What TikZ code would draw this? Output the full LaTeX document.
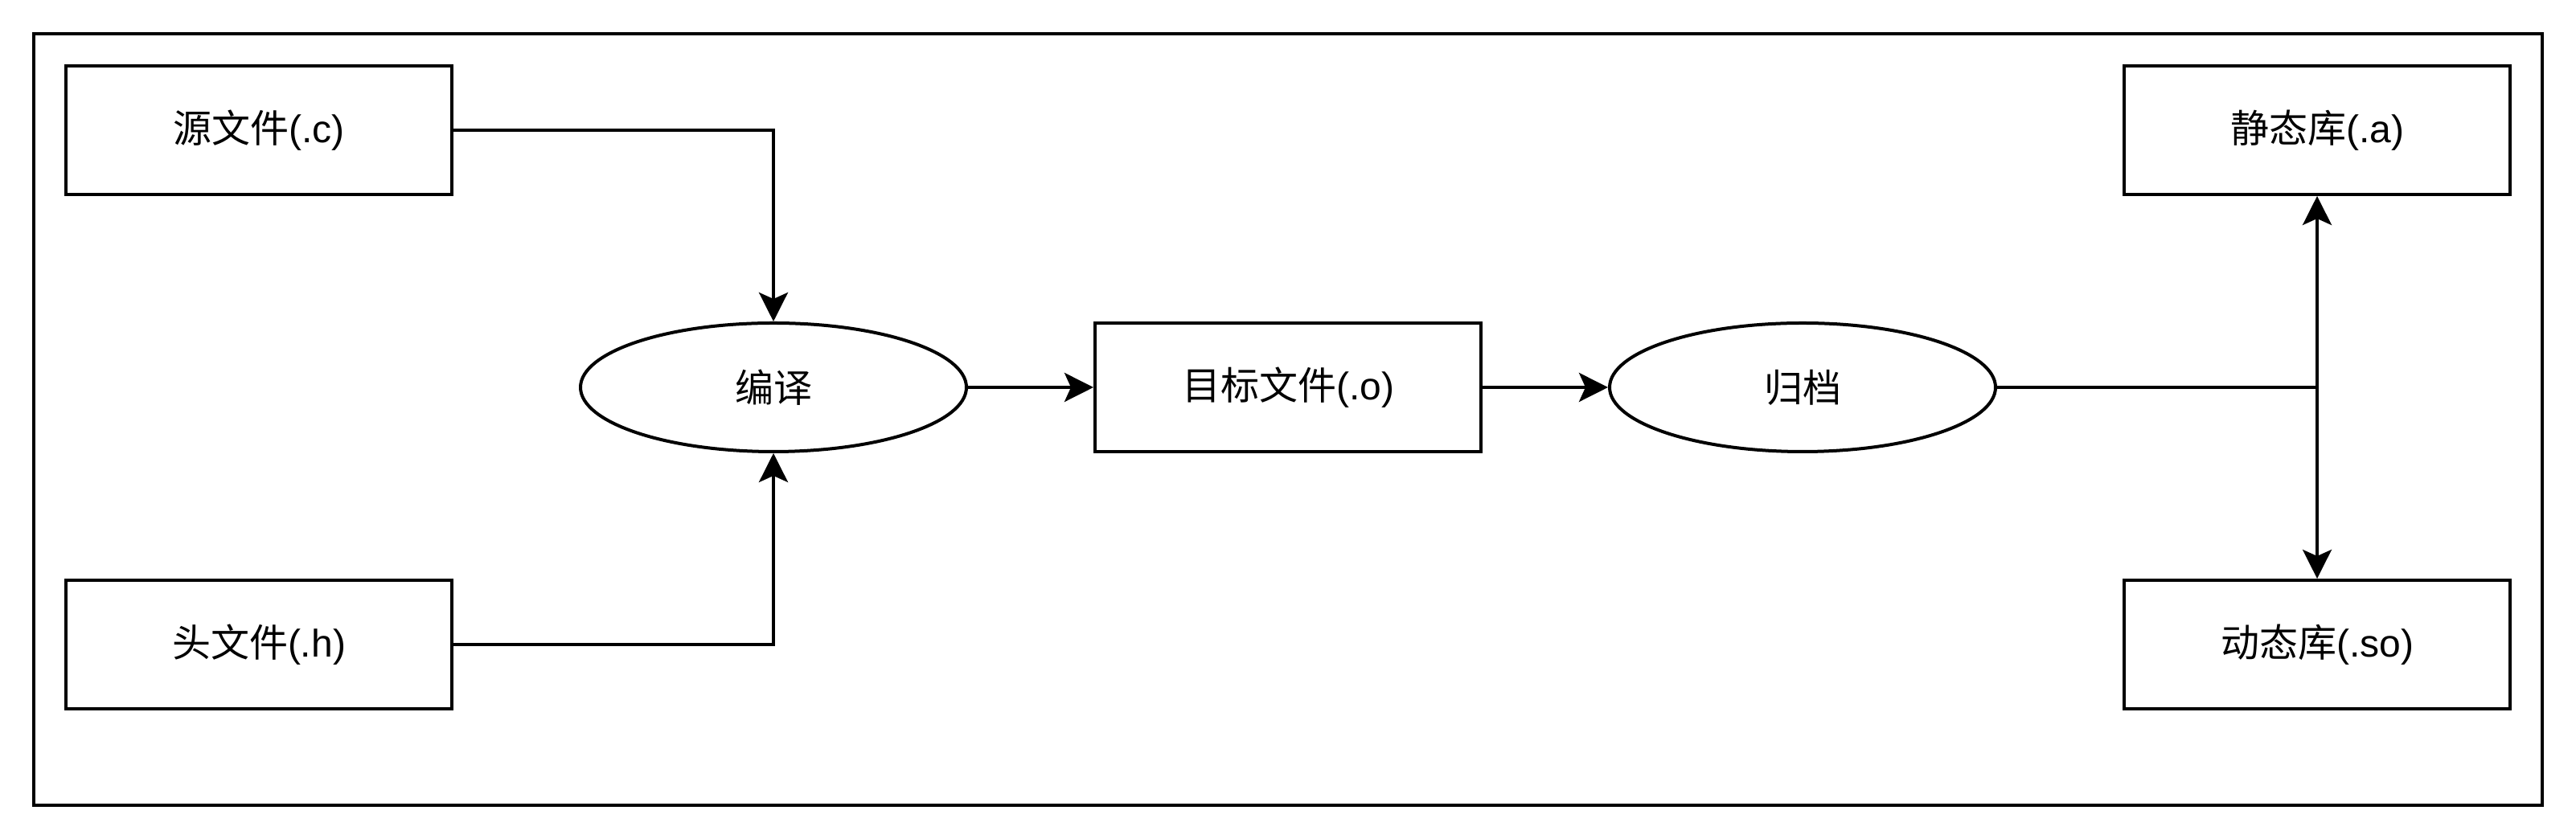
\documentclass[tikz,border=0pt]{standalone}
\usepackage{fontspec}
\setmainfont{Liberation Sans}
\newfontfamily\cjk{Noto Sans CJK SC}
\usetikzlibrary{arrows.meta,shapes.geometric}

\tikzset{
  filebox/.style={draw,line width=1pt,minimum width=120pt,minimum height=40pt,inner sep=0pt,font=\fontsize{12}{14}\selectfont},
  stepoval/.style={draw,ellipse,line width=1pt,minimum width=120pt,minimum height=40pt,inner sep=0pt,font=\fontsize{12}{14}\selectfont},
  arr/.style={line width=1pt,-{Stealth[length=9pt,width=9pt,inset=2pt]}}
}

\begin{document}
\begin{tikzpicture}[x=1pt,y=-1pt]
\useasboundingbox (-0.5,-0.5) rectangle (800.5,260.5);

\draw[line width=1pt] (10,10) rectangle (790,250); %frame

% inputs
\node[filebox] (src) at (80,40)  {{\cjk 源文件}(.c)};
\node[filebox] (hdr) at (80,200) {{\cjk 头文件}(.h)};

% steps and outputs
\node[stepoval] (cmp) at (240,120) {\cjk 编译};
\node[filebox]  (obj) at (400,120) {{\cjk 目标文件}(.o)};
\node[stepoval] (arc) at (560,120) {\cjk 归档};
\node[filebox]  (liba)  at (720,40)  {{\cjk 静态库}(.a)};
\node[filebox]  (libso) at (720,200) {{\cjk 动态库}(.so)};

\draw[arr] (src) -| (cmp);
\draw[arr] (hdr) -| (cmp);
\draw[arr] (cmp) -- (obj);
\draw[arr] (obj) -- (arc);
\draw[arr] (arc) -| (liba);
\draw[arr] (arc) -| (libso);

\end{tikzpicture}
\end{document}
